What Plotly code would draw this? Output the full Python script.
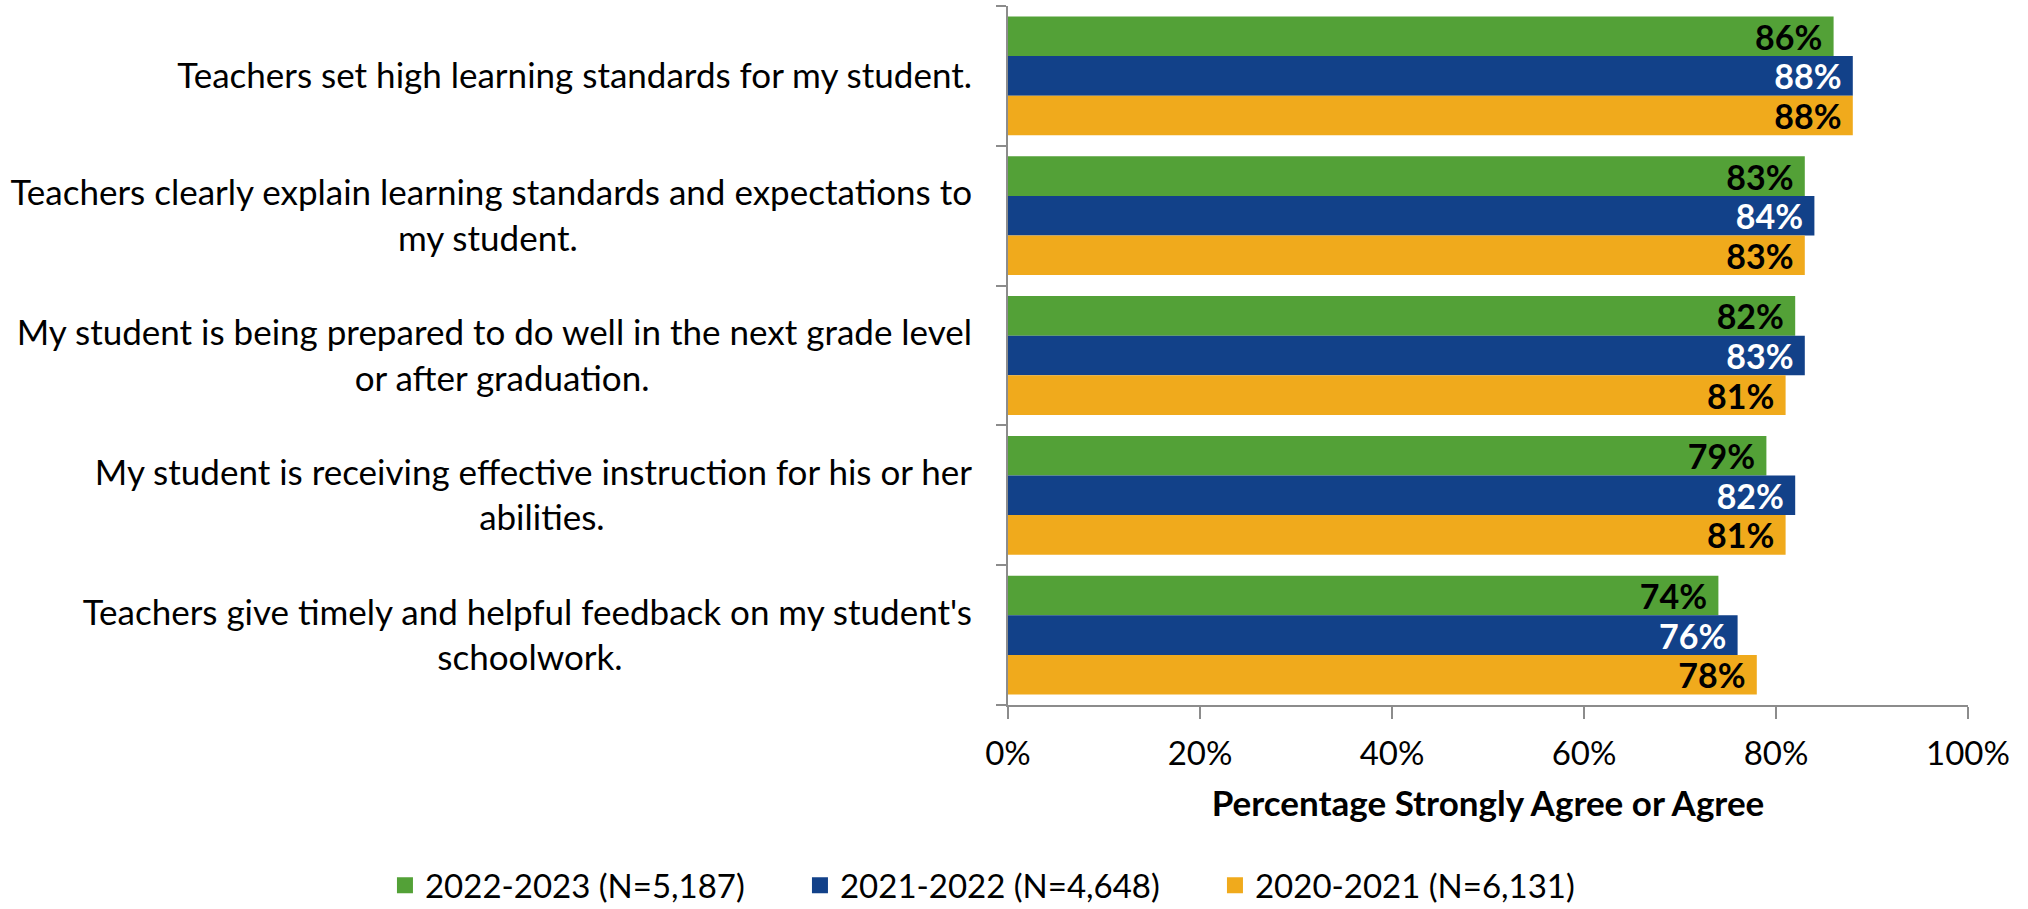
import plotly.graph_objects as go

# ---- data ----
categories = [
    "Teachers set high learning standards for my student.",
    "Teachers clearly explain learning standards and expectations to my student.",
    "My student is being prepared to do well in the next grade level or after graduation.",
    "My student is receiving effective instruction for his or her abilities.",
    "Teachers give timely and helpful feedback on my student's schoolwork.",
]
category_lines = [
    ["Teachers set high learning standards for my student."],
    ["Teachers clearly explain learning standards and expectations to", "my student."],
    ["My student is being prepared to do well in the next grade level", "or after graduation."],
    ["My student is receiving effective instruction for his or her", "abilities."],
    ["Teachers give timely and helpful feedback on my student's", "schoolwork."],
]
series_names = ["2022-2023 (N=5,187)", "2021-2022 (N=4,648)", "2020-2021 (N=6,131)"]
vals_2022_2023 = [86, 83, 82, 79, 74]
vals_2021_2022 = [88, 84, 83, 82, 76]
vals_2020_2021 = [88, 83, 81, 81, 78]
series_values = [vals_2022_2023, vals_2021_2022, vals_2020_2021]
x_tickvals = [0, 20, 40, 60, 80, 100]
x_ticktext = ["0%", "20%", "40%", "60%", "80%", "100%"]
axis_title = "Percentage Strongly Agree or Agree"

# ---- style ----
colors = ["#53A137", "#124189", "#F0AA1C"]
label_colors = ["#000000", "#FFFFFF", "#000000"]
FONT = "Lato, 'Open Sans', sans-serif"
CAT_SIZE = 35
NBSP = "\u00a0"
NBSP_EM = 0.258
AXIS_GRAY = "#8C8C8C"


def text_em(s):
    """Rough Lato text width in em, used only to centre wrapped label lines."""
    total = 0.0
    for ch in s:
        if ch in "ijl.,'!":
            total += 0.24
        elif ch in "ftr":
            total += 0.34
        elif ch == " ":
            total += 0.26
        elif ch in "mw":
            total += 0.82
        elif ch in "MW":
            total += 0.85
        elif ch == "T":
            total += 0.55
        elif ch.isupper():
            total += 0.65
        else:
            total += 0.52
    return total


def wrap_label(lines):
    # multi-line labels are centred (Excel style); tick labels are right-anchored,
    # so pad the shorter line on the right with non-breaking spaces
    if len(lines) == 1:
        return lines[0]
    widest = max(text_em(l) for l in lines)
    out = []
    for l in lines:
        n = int(round((widest - text_em(l)) / 2 / NBSP_EM))
        out.append(l + NBSP * n)
    return "<br>".join(out)


ticktext_y = [wrap_label(l) for l in category_lines]

fig = go.Figure()
for name, vals, col, lc in zip(series_names, series_values, colors, label_colors):
    fig.add_trace(go.Bar(
        name=name,
        x=vals,
        y=categories,
        orientation="h",
        marker=dict(color=col, line=dict(width=0)),
        texttemplate="%{x}%" + NBSP,
        textposition="inside",
        insidetextanchor="end",
        constraintext="none",
        textfont=dict(family=FONT, size=34, color=lc, weight="bold"),
        showlegend=False,
        hoverinfo="skip",
    ))
# legend entries (larger square swatches)
for name, col in zip(series_names, colors):
    fig.add_trace(go.Scatter(
        name=name, x=[None], y=[None], mode="markers",
        marker=dict(symbol="square", size=16, color=col),
        showlegend=True,
    ))

fig.update_layout(
    width=2028, height=909,
    margin=dict(l=1008, r=60, t=6, b=204, autoexpand=False),
    paper_bgcolor="white", plot_bgcolor="white",
    barmode="group", bargap=0.15, bargroupgap=0,
    font=dict(family=FONT, color="black"),
    legend=dict(
        orientation="h", xref="paper", yref="paper",
        x=-0.649, xanchor="left", y=-0.258, yanchor="middle",
        font=dict(family=FONT, size=33, color="black"),
        itemwidth=30,
        entrywidth=370, entrywidthmode="pixels",
    ),
    xaxis=dict(
        range=[0, 100], tickvals=x_tickvals, ticktext=x_ticktext,
        showgrid=False, zeroline=False,
        showline=True, linecolor=AXIS_GRAY, linewidth=2,
        ticks="outside", ticklen=12, tickcolor=AXIS_GRAY, tickwidth=2,
        tickfont=dict(family=FONT, size=33, color="black"),
        ticklabelstandoff=6,
        title=dict(text=axis_title, font=dict(family=FONT, size=35, color="black", weight="bold"), standoff=21),
    ),
    yaxis=dict(
        type="category", autorange="reversed",
        tickvals=categories, ticktext=ticktext_y,
        tickson="boundaries",
        showgrid=False, zeroline=False,
        showline=True, linecolor=AXIS_GRAY, linewidth=2,
        ticks="outside", ticklen=10, tickcolor=AXIS_GRAY, tickwidth=2,
        tickfont=dict(family=FONT, size=CAT_SIZE, color="black"),
        ticklabelstandoff=27,
    ),
)

fig.write_html(
    "out.html",
    config={"displayModeBar": False},
    post_script="document.body.style.margin='0';document.body.style.overflow='hidden';",
)
